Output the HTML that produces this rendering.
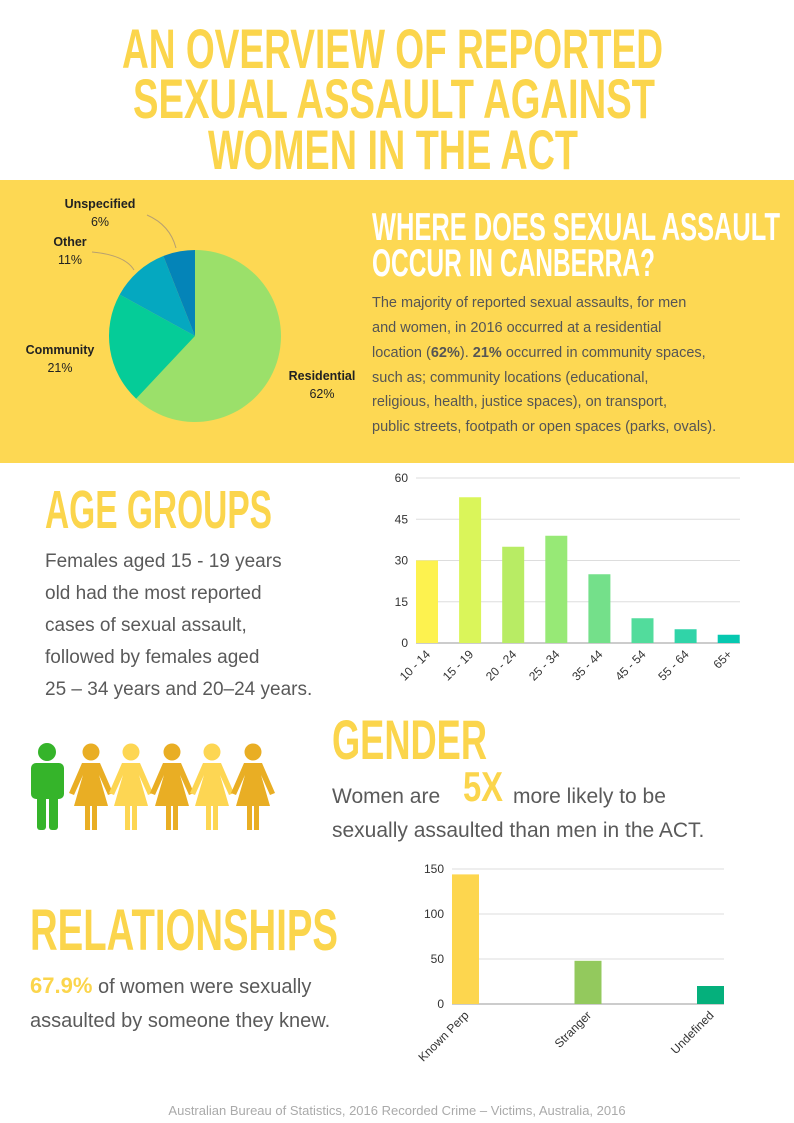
<!DOCTYPE html>
<html><head><meta charset="utf-8"><style>
html,body{margin:0;padding:0;background:#fff;}
svg{display:block;}
.ttl{font-family:"Liberation Sans Narrow","Liberation Sans",sans-serif;font-weight:bold;fill:#fbd54c;}
.body{font-family:"Liberation Sans",sans-serif;fill:#5a5a5a;}
.ax{font-family:"Liberation Sans",sans-serif;font-size:12px;fill:#333;}
</style></head><body>
<svg id="page" width="794" height="1123" viewBox="0 0 794 1123" xmlns="http://www.w3.org/2000/svg">
<rect width="794" height="1123" fill="#fff"/>
<g>
<text class="ttl" x="122" y="68" font-size="56" textLength="541" lengthAdjust="spacingAndGlyphs">AN OVERVIEW OF REPORTED</text>
<text class="ttl" x="133" y="118" font-size="56" textLength="522" lengthAdjust="spacingAndGlyphs">SEXUAL ASSAULT AGAINST</text>
<text class="ttl" x="208" y="169" font-size="56" textLength="370" lengthAdjust="spacingAndGlyphs">WOMEN IN THE ACT</text>
</g>
<rect x="0" y="180" width="794" height="283" fill="#fdd853"/>
<g id="pie"></g>
<g>
<text class="ttl" x="372" y="240" font-size="39" fill="#fff" style="fill:#fff" textLength="408" lengthAdjust="spacingAndGlyphs">WHERE DOES SEXUAL ASSAULT</text>
<text class="ttl" x="372" y="276" font-size="39" style="fill:#fff" textLength="283" lengthAdjust="spacingAndGlyphs">OCCUR IN CANBERRA?</text>
</g>
<g class="body" font-size="14.5" style="fill:#555">
<text x="372" y="307">The majority of reported sexual assaults, for men</text>
<text x="372" y="332">and women, in 2016 occurred at a residential</text>
<text x="372" y="357">location (<tspan font-weight="bold">62%</tspan>). <tspan font-weight="bold">21%</tspan> occurred in community spaces,</text>
<text x="372" y="382">such as; community locations (educational,</text>
<text x="372" y="406">religious, health, justice spaces), on transport,</text>
<text x="372" y="431">public streets, footpath or open spaces (parks, ovals).</text>
</g>
<text class="ttl" x="45" y="528" font-size="54" textLength="227" lengthAdjust="spacingAndGlyphs">AGE GROUPS</text>
<g class="body" font-size="19">
<text x="45" y="567">Females aged 15 - 19 years</text>
<text x="45" y="599">old had the most reported</text>
<text x="45" y="631">cases of sexual assault,</text>
<text x="45" y="663">followed by females aged</text>
<text x="45" y="695">25 – 34 years and 20–24 years.</text>
</g>
<g id="age"></g>
<g>
<g fill="#35b42a">
<circle cx="47" cy="752" r="9"/>
<rect x="31" y="763" width="33" height="36" rx="5"/>
<rect x="37" y="790" width="9" height="40" rx="3"/><rect x="49" y="790" width="9" height="40" rx="3"/>
</g>
<g id="women"></g>
</g>
<text class="ttl" x="332" y="759" font-size="56" textLength="155" lengthAdjust="spacingAndGlyphs">GENDER</text>
<g class="body" font-size="21">
<text x="332" y="803">Women are</text>
<text class="ttl" x="463" y="801" font-size="42" textLength="40" lengthAdjust="spacingAndGlyphs">5X</text>
<text x="513" y="803">more likely to be</text>
<text x="332" y="837">sexually assaulted than men in the ACT.</text>
</g>
<text class="ttl" x="30" y="950" font-size="58" textLength="308" lengthAdjust="spacingAndGlyphs">RELATIONSHIPS</text>
<g class="body" font-size="20">
<text x="30" y="993"><tspan class="ttl" font-size="22" font-weight="bold" style="fill:#fbd54c">67.9%</tspan> of women were sexually</text>
<text x="30" y="1027">assaulted by someone they knew.</text>
</g>
<g id="rel"></g>
<text x="397" y="1115" text-anchor="middle" font-family="Liberation Sans, sans-serif" font-size="13" fill="#aaa">Australian Bureau of Statistics, 2016 Recorded Crime – Victims, Australia, 2016</text>
</svg>
<script>
const NS="http://www.w3.org/2000/svg";
const pieLabels=["Residential","Community","Other","Unspecified"];
const pieValues=[62,21,11,6];
const ageCats=["10 - 14","15 - 19","20 - 24","25 - 34","35 - 44","45 - 54","55 - 64","65+"];
const ageValues=[30,53,35,39,25,9,5,3];
const ageTicks=[0,15,30,45,60];
const relCats=["Known Perp","Stranger","Undefined"];
const relValues=[144,48,20];
const relTicks=[0,50,100,150];
function mk(tag,attrs,parent){const e=document.createElementNS(NS,tag);for(const k in attrs)e.setAttribute(k,attrs[k]);parent.appendChild(e);return e;}
// pie
(function(){
const g=document.getElementById('pie');
const cx=195,cy=336,r=86;
const cols=["#9be06a","#05cc98","#05a8c0","#0484b8"];
const lab=[[315,380,"start"],[60,354,"middle"],[70,246,"middle"],[100,208,"middle"]];
const total=pieValues.reduce((a,b)=>a+b,0);
let a0=0;
pieValues.forEach((v,i)=>{
const a1=a0+v/total*2*Math.PI;
const p=(a)=>[cx+r*Math.sin(a),cy-r*Math.cos(a)];
const s=p(a0),e=p(a1),large=(a1-a0)>Math.PI?1:0;
const path=mk('path',{d:`M${cx},${cy}L${s[0]},${s[1]}A${r},${r} 0 ${large} 1 ${e[0]},${e[1]}Z`,fill:cols[i]},g);


const t=mk('text',{x:lab[i][0],y:lab[i][1],'text-anchor':lab[i][2]==='start'?'middle':'middle','font-family':'Liberation Sans, sans-serif','font-size':'12.5','font-weight':'bold',fill:'#222'},g);
if(i===0)t.setAttribute('x',322);
t.textContent=pieLabels[i];


const t2=mk('text',{x:t.getAttribute('x'),y:lab[i][1]+18,'text-anchor':'middle','font-family':'Liberation Sans, sans-serif','font-size':'12.5',fill:'#222'},g);
t2.textContent=v+"%";


a0=a1;
});
mk('path',{d:'M92,252 Q125,255 134,270',fill:'none',stroke:'#b8a070','stroke-width':'1'},g);
mk('path',{d:'M147,215 Q170,225 176,248',fill:'none',stroke:'#b8a070','stroke-width':'1'},g);
})();
function barChart(gid,cats,vals,ticks,x0,x1,y0,yTop,maxV,step,bw,colors,rot){
const g=document.getElementById(gid);
const y=v=>y0-(v/maxV)*(y0-yTop);
ticks.forEach(t=>{
const l=mk('line',{x1:x0,x2:x1,y1:y(t),y2:y(t),stroke:t===0?'#ccc':'#ddd','stroke-width':t===0?2:1},g);


const tx=mk('text',{x:x0-8,y:y(t)+4,'text-anchor':'end',class:'ax'},g);
tx.textContent=t;


});
vals.forEach((v,i)=>{
const bx=x0+i*step;
const b=mk('rect',{x:bx,y:y(v),width:bw,height:y0-y(v),fill:colors[i]},g);


const lx=bx+bw/2+4,ly=y0+12;
const t=mk('text',{x:lx,y:ly,'text-anchor':'end',class:'ax',transform:`rotate(-45 ${lx} ${ly})`},g);
t.textContent=cats[i];


});
}
barChart('age',ageCats,ageValues,ageTicks,416,740,643,478,60,43.1,22,
["#fdf24f","#daf55a","#b8ec64","#97e976","#74e08a","#52dc9c","#30d4a8","#06c8b0"]);
barChart('rel',relCats,relValues,relTicks,452,724,1004,869,150,122.5,27,["#fdd64e","#93c95d","#05b07c"]);
// women icons
(function(){
const g=document.getElementById('women');
const cxs=[91,131,172,212,253];
cxs.forEach((c,i)=>{
const w=mk('g',{fill:i%2===0?'#e9ae24':'#fdd653'},g);


mk('circle',{cx:c,cy:752,r:8.5},w);
mk('path',{d:`M${c-9},763 L${c+9},763 L${c+22},793 L${c+17},795 L${c+8},775 L${c+17},806 L${c-17},806 L${c-8},775 L${c-17},795 L${c-22},793 Z`},w);
mk('rect',{x:c-6,y:804,width:5,height:26},w);
mk('rect',{x:c+1,y:804,width:5,height:26},w);
});
})();
</script>
</body></html>
